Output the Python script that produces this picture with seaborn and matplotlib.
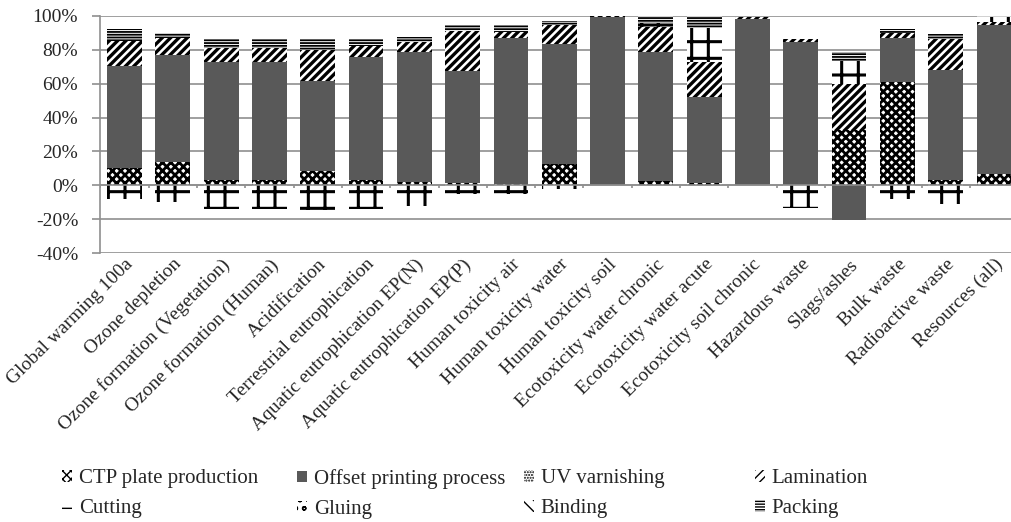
import matplotlib
matplotlib.use("Agg")
import matplotlib.pyplot as plt
import seaborn as sns
import numpy as np
from matplotlib.patches import Patch

categories = [
    "Global warming 100a", "Ozone depletion", "Ozone formation (Vegetation)",
    "Ozone formation (Human)", "Acidification", "Terrestrial eutrophication",
    "Aquatic eutrophication EP(N)", "Aquatic eutrophication EP(P)",
    "Human toxicity air", "Human toxicity water", "Human toxicity soil",
    "Ecotoxicity water chronic", "Ecotoxicity water acute", "Ecotoxicity soil chronic",
    "Hazardous waste", "Slags/ashes", "Bulk waste", "Radioactive waste", "Resources (all)",
]

series_names = ["CTP plate production", "Offset printing process", "UV varnishing",
                "Lamination", "Cutting", "Gluing", "Binding", "Packing"]

ctp        = [10.2, 13.8, 3.4, 3.4, 8.3, 3.0, 2.0, 1.2, 0.5, 12.8, 0.0, 2.4, 1.4, 0.0, 0.3, 32.5, 61.0, 3.0, 6.5]
offset     = [60.2, 62.9, 69.6, 69.4, 53.2, 72.5, 76.5, 66.6, 86.3, 70.4, 99.6, 76.5, 50.9, 98.2, 84.5, -20.5, 26.2, 65.0, 88.2]
uv         = [0.0] * 19
lamination = [15.0, 10.5, 7.9, 8.1, 18.4, 6.9, 5.9, 23.3, 3.5, 11.5, 0.3, 14.6, 20.7, 1.4, 1.4, 27.3, 2.5, 18.2, 1.5]
cutting    = [-7.9, -9.8, -13.8, -13.8, -14.4, -13.8, -12.2, -4.9, -4.9, -2.0, 0.0, 2.5, 19.7, 0.0, -13.4, 13.6, -7.9, -10.8, 3.3]
gluing     = [0.0] * 19
binding    = [0.0] * 19
packing    = [6.7, 2.5, 5.5, 5.5, 6.3, 4.2, 3.2, 3.8, 4.6, 2.5, 0.0, 4.0, 7.3, 0.0, 0.0, 5.5, 2.4, 3.0, 0.5]

yticks = [-40, -20, 0, 20, 40, 60, 80, 100]

series_values = [ctp, offset, uv, lamination, cutting, gluing, binding, packing]
# facecolor, hatch, hatch linewidth
styles = [
    ("white", "xxxx", 2.0),
    ("#595959", "", 1.0),
    ("white", "......", 1.0),
    ("white", "////", 2.4),
    ("white", "+", 2.2),
    ("white", "oo", 1.5),
    ("white", "\\\\\\", 1.2),
    ("white", "------", 1.3),
]

sns.set_style("white")
plt.rcParams["font.family"] = ["Liberation Serif", "DejaVu Serif"]

fig = plt.figure(figsize=(10.12, 5.22), dpi=100)
ax = fig.add_axes([100.4 / 1012, 1 - 253 / 522, 19 * 48.3 / 1012, (253 - 16) / 522])
ax.set_axisbelow(True)

vals = np.array(series_values, dtype=float)
pos = np.clip(vals, 0, None)
neg = np.clip(vals, None, 0)
cum_pos = np.cumsum(pos, axis=0)
cum_neg = np.cumsum(neg, axis=0)

def draw_layer(heights, face, hatch, hlw):
    with plt.rc_context({"hatch.linewidth": hlw}):
        before = len(ax.patches)
        sns.barplot(x=categories, y=list(heights), order=categories, color=face,
                    saturation=1, width=0.72, edgecolor="black", linewidth=0,
                    hatch=hatch if hatch else None, errorbar=None, ax=ax)
        for p in ax.patches[before:]:
            if hasattr(p, "set_hatch_linewidth"):
                p.set_hatch_linewidth(hlw)

# overlay drawing: top-most cumulative first
for k in range(len(series_values) - 1, -1, -1):
    if np.any(pos[k] > 0):
        face, hatch, hlw = styles[k]
        draw_layer(cum_pos[k], face, hatch, hlw)
for k in range(len(series_values) - 1, -1, -1):
    if np.any(neg[k] < 0):
        face, hatch, hlw = styles[k]
        draw_layer(cum_neg[k], face, hatch, hlw)

grid_c = "#8f8f8f"
ax.set_xlim(-0.5, len(categories) - 0.5)
ax.set_ylim(-40, 100)
ax.set_yticks(yticks)
ax.set_yticklabels([f"{v}%" for v in yticks], fontsize=14)
ax.yaxis.grid(True, color=grid_c, linewidth=1.2)
ax.xaxis.grid(False)
for s in ["top", "right", "bottom"]:
    ax.spines[s].set_visible(False)
ax.spines["left"].set_color(grid_c)
ax.spines["left"].set_linewidth(1.2)
ax.tick_params(axis="y", length=6, width=1.2, color=grid_c, pad=10, left=True)
ax.axhline(0, color=grid_c, linewidth=1.2, zorder=3)
ax.vlines(np.arange(-0.5, len(categories)), -1.8, 0, color=grid_c, linewidth=1.2, zorder=3)

ax.set_xticks(range(len(categories)))
ax.set_xticklabels(categories, rotation=45, ha="right", va="top",
                   rotation_mode="anchor", fontsize=14)
ax.tick_params(axis="x", length=0, pad=2)
ax.set_xlabel("")
ax.set_ylabel("")

# legend: 4 columns x 2 rows
col_x = [62 / 1012, 297 / 1012, 524 / 1012, 755 / 1012]
for c in range(4):
    hs = []
    for r in range(2):
        k = r * 4 + c
        face, hatch, hlw = styles[k]
        h = Patch(facecolor=face, edgecolor="black", linewidth=0,
                  hatch=hatch if hatch else None, label=series_names[k])
        hs.append(h)
    fig.legend(handles=hs, loc="upper left", bbox_to_anchor=(col_x[c], 1 - 469 / 522),
               frameon=False, fontsize=15, borderpad=0, borderaxespad=0,
               handlelength=0.5, handleheight=0.5, handletextpad=0.3,
               labelspacing=0.55)

fig.savefig("out.png", dpi=100)
